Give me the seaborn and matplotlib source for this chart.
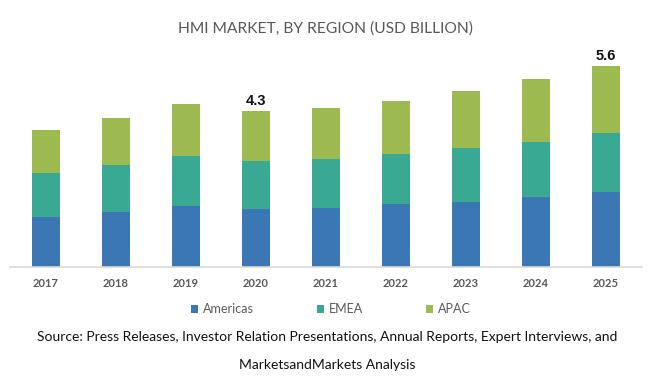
import matplotlib
matplotlib.use("Agg")
import matplotlib.pyplot as plt
import seaborn as sns
import pandas as pd
import numpy as np
from matplotlib.patches import Patch

years = ["2017", "2018", "2019", "2020", "2021", "2022", "2023", "2024", "2025"]
americas = [1.39, 1.52, 1.68, 1.60, 1.63, 1.75, 1.81, 1.95, 2.09]
emea = [1.22, 1.31, 1.39, 1.34, 1.35, 1.38, 1.48, 1.52, 1.63]
apac = [1.19, 1.29, 1.44, 1.39, 1.43, 1.47, 1.58, 1.73, 1.85]
series_names = ["Americas", "EMEA", "APAC"]
labels = {"2020": "4.3", "2025": "5.6"}
title = "HMI MARKET, BY REGION (USD BILLION)"
source1 = "Source: Press Releases, Investor Relation Presentations, Annual Reports, Expert Interviews, and"
source2 = "MarketsandMarkets Analysis"

colors = {"Americas": "#3B77B5", "EMEA": "#39A993", "APAC": "#9DBA51"}

sns.set_theme(style="white")
plt.rcParams["font.family"] = ["Lato", "DejaVu Sans"]

df = pd.DataFrame({"year": years, "Americas": americas, "EMEA": emea, "APAC": apac})
df["c_am"] = df["Americas"]
df["c_emea"] = df["Americas"] + df["EMEA"]
df["c_total"] = df["c_emea"] + df["APAC"]

fig = plt.figure(figsize=(6.5, 3.86), dpi=100)
ax = fig.add_axes([10 / 650, 1 - 267 / 386, 632 / 650, (267 - 55) / 386])

for col, name in [("c_total", "APAC"), ("c_emea", "EMEA"), ("c_am", "Americas")]:
    sns.barplot(data=df, x="year", y=col, order=years, color=colors[name],
                width=0.39, saturation=1, ax=ax, linewidth=0)

ax.set_xlim(-0.514, 8.514)
ax.set_ylim(0, 212 / 36.1)
ax.set_xlabel("")
ax.set_ylabel("")
ax.set_yticks([])
for s in ["top", "right", "left"]:
    ax.spines[s].set_visible(False)
ax.spines["bottom"].set_color("#d9d9d9")
ax.spines["bottom"].set_linewidth(1.2)
ax.tick_params(axis="x", length=0, pad=8, labelsize=8, labelcolor="#595959")
for t in ax.get_xticklabels():
    t.set_fontweight("bold")

for i, y in enumerate(years):
    if y in labels:
        ax.annotate(labels[y], (i, df["c_total"][i]), xytext=(0, 2), textcoords="offset points",
                    ha="center", va="bottom", fontsize=10.5, fontweight="bold",
                    family=["Liberation Sans", "DejaVu Sans"], color="#111111")

renderer = fig.canvas.get_renderer()


def fit(txt, target_px, size):
    ext = txt.get_window_extent(renderer=renderer)
    txt.set_fontsize(size * target_px / ext.width)


t_title = fig.text(0.5015, 1 - 29 / 386, title, ha="center", va="center",
                   fontsize=14, color="#595959")
fit(t_title, 295, 14)

handles = [Patch(facecolor=colors[n], edgecolor="none") for n in series_names]
leg = fig.legend(handles, series_names, loc="center", bbox_to_anchor=(331 / 650, 1 - 309 / 386),
                 ncol=3, frameon=False, fontsize=9, handlelength=0.6, handleheight=0.6,
                 handletextpad=0.4, columnspacing=5.0, labelcolor="#595959")

t_s1 = fig.text(0.503, 1 - 337 / 386, source1, ha="center", va="center", fontsize=11, color="#111111")
fit(t_s1, 580, 11)
t_s2 = fig.text(0.503, 1 - 365 / 386, source2, ha="center", va="center",
                fontsize=t_s1.get_fontsize(), color="#111111")

fig.savefig("out.png", dpi=100)
